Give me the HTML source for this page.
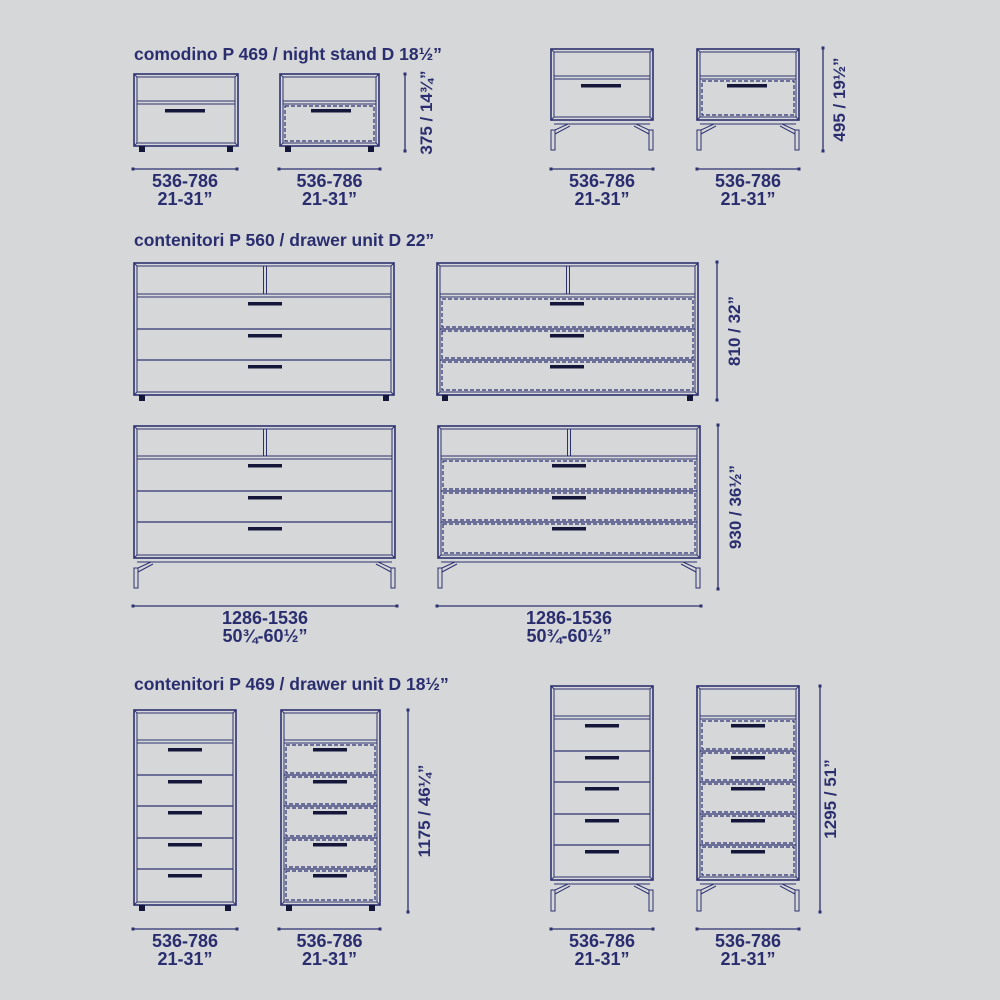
<!DOCTYPE html>
<html><head><meta charset="utf-8"><style>
html,body{margin:0;padding:0;background:#d5d7d9;}
svg{display:block}
text{font-family:"Liberation Sans",sans-serif;font-weight:bold;fill:#2b2e6e}
</style></head><body>
<svg id="s" width="1000" height="1000" viewBox="0 0 1000 1000" xmlns="http://www.w3.org/2000/svg">
<rect width="1000" height="1000" fill="#d5d7d9"/>
<text x="134" y="60" font-size="17.5">comodino P 469 / night stand D 18½”</text>
<text x="134" y="246" font-size="17.5">contenitori P 560 / drawer unit D 22”</text>
<text x="134" y="690" font-size="17.5">contenitori P 469 / drawer unit D 18½”</text>
<g id="g"></g>
</svg>
<script>
const C='#2e3170',H='#15173a';let o='';
function L(x1,y1,x2,y2,w,d){o+=`<line x1="${x1}" y1="${y1}" x2="${x2}" y2="${y2}" stroke="${C}" stroke-width="${w||1.2}" ${d?'stroke-dasharray="4 2"':''}/>`;}
function R(x,y,w,h,sw,d){o+=`<rect x="${x}" y="${y}" width="${w}" height="${h}" fill="none" stroke="${C}" stroke-width="${sw||1.2}" ${d?'stroke-dasharray="4 2"':''}/>`;}
function F(x,y,w,h,c){o+=`<rect x="${x}" y="${y}" width="${w}" height="${h}" fill="${c}"/>`;}
function T(x,y,s,t,rot){o+=rot?`<text transform="translate(${x},${y}) rotate(-90)" text-anchor="middle" font-size="${s}">${t}</text>`:`<text x="${x}" y="${y}" text-anchor="middle" font-size="${s}">${t}</text>`;}
function cab(x,y,w,h,shelf,div,bounds,hx,hw,dashed,feet,legB){
 R(x,y,w,h,1.6);R(x+3,y+3,w-6,h-6,1);
 L(x,y,x+3,y+3,1);L(x+w,y,x+w-3,y+3,1);L(x,y+h,x+3,y+h-3,1);L(x+w,y+h,x+w-3,y+h-3,1);
 L(x+3,shelf-2,x+w-3,shelf-2,1);L(x+3,shelf+1,x+w-3,shelf+1,1);
 if(div){L(div-1.5,y+3,div-1.5,shelf-2,1);L(div+1.5,y+3,div+1.5,shelf-2,1);}
 for(let i=0;i<bounds.length-1;i++){const a=bounds[i],b=bounds[i+1];
  if(i>0)L(x+3,a,x+w-3,a,1.2);
  if(dashed)R(x+5,a+2,w-10,b-a-4,1.2,1);
  F(hx,a+5,hw,3.5,H);}
 if(feet==='sq'){F(x+5,y+h,6,6,H);F(x+w-11,y+h,6,6,H);}
 if(feet==='leg'){L(x+3,y+h+4,x+w-3,y+h+4,1);
  R(x,y+h+10,4,legB-y-h-10,1);R(x+w-4,y+h+10,4,legB-y-h-10,1);
  L(x+4,y+h+10,x+17,y+h+4,1);L(x+4,y+h+14,x+19,y+h+6,1);
  L(x+w-4,y+h+10,x+w-17,y+h+4,1);L(x+w-4,y+h+14,x+w-19,y+h+6,1);}
}
function hd(x1,x2,y,t1,t2,ty){L(x1,y,x2,y,1.3);F(x1-1.5,y-1.5,3,3,C);F(x2-1.5,y-1.5,3,3,C);T((x1+x2)/2,ty,18,t1);T((x1+x2)/2,ty+18,18,t2);}
function vd(x,y1,y2,tx,t){L(x,y1,x,y2,1.3);F(x-1.5,y1-1.5,3,3,C);F(x-1.5,y2-1.5,3,3,C);T(tx,(y1+y2)/2,17,t,1);}
// row1
cab(134,74,104,72,103,0,[104,143],165,40,0,'sq');
cab(280,74,99,72,103,0,[104,143],311,40,1,'sq');
vd(405,74,151,432,'375 / 14¾”');
hd(133,237,169,'536-786','21-31”',187);
hd(279,380,169,'536-786','21-31”',187);
cab(551,49,102,71,78,0,[79,117],581,40,0,'leg',150);
cab(697,49,102,71,78,0,[79,117],727,40,1,'leg',150);
vd(823,48,151,845,'495 / 19½”');
hd(551,653,169,'536-786','21-31”',187);
hd(697,799,169,'536-786','21-31”',187);
// row2
cab(134,263,260,132,296,265,[297,329,360,392],248,34,0,'sq');
cab(437,263,261,132,296,568,[297,329,360,392],550,34,1,'sq');
vd(717,262,400,740,'810 / 32”');
cab(134,426,261,132,458,265,[459,491,522,555],248,34,0,'leg',588);
cab(438,426,262,132,458,569,[459,491,522,555],552,34,1,'leg',588);
vd(718,425,589,741,'930 / 36½”');
hd(133,397,606,'1286-1536','50¾-60½”',624);
hd(437,701,606,'1286-1536','50¾-60½”',624);
// row4
cab(134,710,102,195,742,0,[743,775,806,838,869,902],168,34,0,'sq');
cab(281,710,99,195,742,0,[743,775,806,838,869,902],313,34,1,'sq');
vd(408,710,912,430,'1175 / 46¼”');
hd(133,237,929,'536-786','21-31”',947);
hd(279,380,929,'536-786','21-31”',947);
cab(551,686,102,194,718,0,[719,751,782,814,845,877],585,34,0,'leg',911);
cab(697,686,102,194,718,0,[719,751,782,814,845,877],731,34,1,'leg',911);
vd(820,686,912,836,'1295 / 51”');
hd(551,653,929,'536-786','21-31”',947);
hd(697,799,929,'536-786','21-31”',947);
document.getElementById('g').innerHTML=o;
</script>
</body></html>
